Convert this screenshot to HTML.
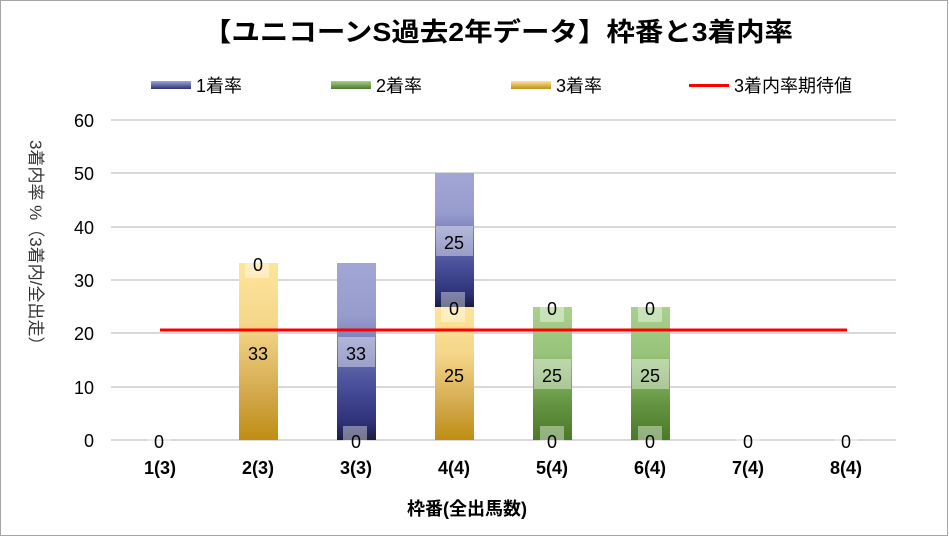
<!DOCTYPE html><html><head><meta charset="utf-8"><style>
body{margin:0;width:949px;height:537px;background:#fff;overflow:hidden;font-family:"Liberation Sans","Noto Sans CJK JP",sans-serif}
</style></head><body>
<svg width="949" height="537" xmlns="http://www.w3.org/2000/svg" font-family="Liberation Sans, Noto Sans CJK JP, sans-serif">
<defs>
<linearGradient id="b" x1="0" y1="0" x2="0" y2="1"><stop offset="0" stop-color="#a1a6d4"/><stop offset="0.3" stop-color="#979cce"/><stop offset="0.65" stop-color="#4f559f"/><stop offset="0.9" stop-color="#2d3278"/><stop offset="1" stop-color="#1a1c3e"/></linearGradient>
<linearGradient id="g" x1="0" y1="0" x2="0" y2="1"><stop offset="0" stop-color="#fee59b"/><stop offset="0.35" stop-color="#f5d68a"/><stop offset="0.75" stop-color="#d2a74a"/><stop offset="1" stop-color="#bf8e12"/></linearGradient>
<linearGradient id="n" x1="0" y1="0" x2="0" y2="1"><stop offset="0" stop-color="#a9d18e"/><stop offset="0.35" stop-color="#97c37a"/><stop offset="0.75" stop-color="#62923f"/><stop offset="1" stop-color="#4a7a28"/></linearGradient>
<linearGradient id="lb" x1="0" y1="0" x2="0" y2="1"><stop offset="0" stop-color="#a1a6d4"/><stop offset="1" stop-color="#2d3278"/></linearGradient>
<linearGradient id="lg" x1="0" y1="0" x2="0" y2="1"><stop offset="0" stop-color="#a9d18e"/><stop offset="1" stop-color="#4a7a28"/></linearGradient>
<linearGradient id="ly" x1="0" y1="0" x2="0" y2="1"><stop offset="0" stop-color="#fee59b"/><stop offset="1" stop-color="#bf8e12"/></linearGradient>
</defs>
<rect x="0.5" y="0.5" width="947" height="535" fill="#fff" stroke="#a6a6a6"/>
<text x="203" y="41" font-size="26" font-weight="bold" fill="#000" textLength="590" lengthAdjust="spacingAndGlyphs">【ユニコーンS過去2年データ】枠番と3着内率</text>
<rect x="151" y="81" width="40" height="8" fill="url(#lb)"/><text x="196" y="92" font-size="18">1着率</text>
<rect x="331" y="81" width="40" height="8" fill="url(#lg)"/><text x="376" y="92" font-size="18">2着率</text>
<rect x="511" y="81" width="40" height="8" fill="url(#ly)"/><text x="556" y="92" font-size="18">3着率</text>
<rect x="689" y="84" width="40" height="3" fill="#f00"/><text x="734" y="92" font-size="18">3着内率期待値</text>
<g stroke="#d9d9d9" stroke-width="2">
<line x1="111" x2="896" y1="120" y2="120"/><line x1="111" x2="896" y1="173" y2="173"/><line x1="111" x2="896" y1="227" y2="227"/><line x1="111" x2="896" y1="280" y2="280"/><line x1="111" x2="896" y1="333" y2="333"/><line x1="111" x2="896" y1="387" y2="387"/><line x1="111" x2="896" y1="440" y2="440"/></g>
<g font-size="18" text-anchor="end"><text x="94" y="127">60</text><text x="94" y="180">50</text><text x="94" y="234">40</text><text x="94" y="287">30</text><text x="94" y="340">20</text><text x="94" y="394">10</text><text x="94" y="447">0</text></g>
<text transform="translate(30,140) rotate(90)" font-size="17" fill="#333">3着内率 %（3着内/全出走）</text>
<rect x="239" y="263" width="39" height="177" fill="url(#g)"/>
<rect x="337" y="263" width="39" height="177" fill="url(#b)"/>
<rect x="435" y="307" width="39" height="133" fill="url(#g)"/>
<rect x="435" y="173" width="39" height="134" fill="url(#b)"/>
<rect x="533" y="307" width="39" height="133" fill="url(#n)"/>
<rect x="631" y="307" width="39" height="133" fill="url(#n)"/>
<line x1="160" x2="847" y1="330" y2="330" stroke="#f00" stroke-width="3"/>
<g fill="#fff" fill-opacity="0.4">
<rect x="147" y="426" width="24" height="30"/><rect x="245" y="248" width="24" height="30"/><rect x="338" y="337" width="37" height="30"/><rect x="343" y="426" width="24" height="30"/><rect x="436" y="226" width="37" height="30"/><rect x="441" y="292" width="24" height="30"/><rect x="540" y="292" width="24" height="30"/><rect x="534" y="359" width="37" height="30"/><rect x="540" y="426" width="24" height="30"/><rect x="638" y="292" width="24" height="30"/><rect x="632" y="359" width="37" height="30"/><rect x="638" y="426" width="24" height="30"/><rect x="736" y="426" width="24" height="30"/><rect x="834" y="426" width="24" height="30"/></g>
<g font-size="18" text-anchor="middle">
<text x="159" y="448">0</text><text x="258" y="271">0</text><text x="258" y="360">33</text><text x="356" y="360">33</text><text x="356" y="448">0</text>
<text x="454" y="249">25</text><text x="454" y="315">0</text><text x="454" y="382">25</text>
<text x="552" y="315">0</text><text x="552" y="382">25</text><text x="552" y="448">0</text>
<text x="650" y="315">0</text><text x="650" y="382">25</text><text x="650" y="448">0</text>
<text x="748" y="448">0</text><text x="846" y="448">0</text></g>
<g font-size="18" font-weight="bold" text-anchor="middle">
<text x="160" y="474">1(3)</text><text x="258" y="474">2(3)</text><text x="356" y="474">3(3)</text><text x="454" y="474">4(4)</text><text x="552" y="474">5(4)</text><text x="650" y="474">6(4)</text><text x="748" y="474">7(4)</text><text x="846" y="474">8(4)</text></g>
<text x="467" y="515" text-anchor="middle" font-size="18" font-weight="bold">枠番(全出馬数)</text>
</svg></body></html>
